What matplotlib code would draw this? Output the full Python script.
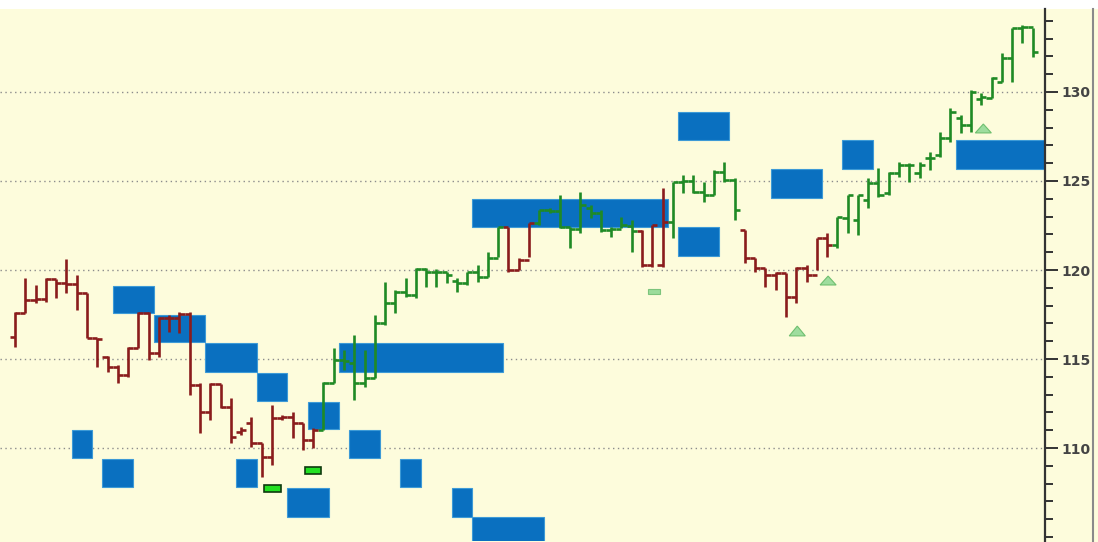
import matplotlib
matplotlib.use('Agg')
import matplotlib.pyplot as plt
from matplotlib.patches import Rectangle, Polygon
from matplotlib.lines import Line2D
import matplotlib.ticker as mticker

# OHLC price bars
opens = [116.24, 117.58, 118.31, 118.37, 119.49, 119.27, 119.21, 118.71, 116.18, 115.10,
         114.55, 114.10, 115.62, 117.58, 115.34, 117.30, 117.30, 117.53, 113.54, 112.02,
         113.60, 112.30, 110.90, 111.40, 110.28, 109.49, 111.70, 111.75, 111.40, 110.45,
         111.01, 113.65, 114.94, 114.80, 113.65, 113.93, 117.02, 118.15, 118.76, 118.60,
         120.06, 119.89, 119.89, 119.40, 119.27, 119.89, 119.60, 120.67, 122.42, 120.00,
         120.56, 122.64, 123.37, 123.30, 122.42, 122.30, 123.50, 123.20, 122.25, 122.30,
         122.50, 122.20, 120.28, 120.30, 122.70, 124.94, 125.00, 124.38, 124.21, 125.51,
         125.06, 122.25, 120.67, 120.11, 119.72, 119.83, 118.48, 120.11, 119.72, 121.80,
         121.40, 122.92, 122.80, 123.93, 124.89, 124.33, 125.45, 125.90, 125.45, 126.30,
         126.46, 127.42, 128.54, 128.15, 129.60, 129.66, 130.56, 131.91, 133.60, 133.65]
highs = [117.64, 119.55, 119.16, 119.55, 119.49, 120.62, 119.72, 118.71, 116.18, 115.17,
         114.66, 115.67, 117.64, 117.64, 117.36, 117.47, 117.64, 117.64, 113.65, 113.65,
         113.60, 112.81, 111.18, 111.74, 110.28, 112.42, 111.85, 112.02, 111.40, 111.10,
         113.71, 115.62, 115.50, 116.35, 115.50, 117.47, 119.33, 118.88, 119.55, 120.11,
         120.11, 120.06, 119.89, 119.55, 119.89, 120.28, 121.01, 122.42, 122.42, 120.67,
         122.64, 123.37, 123.48, 124.21, 122.42, 124.38, 123.65, 123.37, 122.42, 122.98,
         122.81, 122.25, 122.53, 124.61, 124.94, 125.34, 125.34, 124.94, 125.62, 126.07,
         125.17, 122.25, 120.67, 120.11, 119.89, 119.83, 120.17, 120.28, 121.80, 122.08,
         122.98, 124.21, 124.21, 125.17, 125.73, 125.51, 126.07, 126.01, 126.07, 126.63,
         127.75, 129.10, 128.71, 130.11, 129.94, 130.84, 132.19, 133.60, 133.76, 133.60]
lows = [115.67, 117.58, 118.15, 118.20, 118.43, 118.71, 117.75, 116.18, 114.55, 114.27,
        113.65, 113.99, 115.62, 114.94, 115.11, 116.52, 116.46, 112.98, 110.84, 111.57,
        112.25, 110.28, 110.73, 110.06, 108.37, 109.04, 111.55, 110.56, 109.89, 110.00,
        111.01, 113.65, 114.40, 112.70, 113.43, 113.93, 116.91, 117.58, 118.48, 118.43,
        119.04, 119.04, 119.27, 118.76, 119.16, 119.33, 119.61, 120.73, 119.89, 120.00,
        120.73, 122.53, 123.20, 122.36, 121.24, 122.08, 122.92, 122.13, 121.85, 122.36,
        121.00, 120.17, 120.17, 120.17, 121.80, 124.33, 124.33, 123.82, 124.21, 124.94,
        122.81, 120.39, 119.89, 119.04, 118.88, 117.36, 118.15, 119.33, 120.00, 120.73,
        121.24, 122.08, 121.97, 123.48, 124.10, 124.21, 125.22, 124.94, 125.17, 125.62,
        126.35, 127.19, 127.70, 127.75, 129.27, 129.66, 130.56, 130.56, 132.75, 131.97]
closes = [117.58, 118.31, 118.37, 119.49, 119.27, 119.21, 118.71, 116.18, 116.10, 114.55,
          114.10, 115.62, 117.58, 115.34, 117.30, 117.30, 117.53, 113.54, 112.02, 113.60,
          112.30, 110.62, 111.01, 110.28, 109.49, 111.69, 111.75, 111.40, 110.45, 111.01,
          113.65, 114.94, 114.90, 113.65, 113.93, 117.02, 118.15, 118.76, 118.60, 120.06,
          119.89, 119.89, 119.72, 119.27, 119.89, 119.60, 120.67, 122.42, 120.00, 120.56,
          122.64, 123.37, 123.30, 122.42, 122.30, 123.65, 123.20, 122.25, 122.30, 122.53,
          122.20, 120.28, 122.53, 122.70, 124.94, 125.00, 124.38, 124.21, 125.51, 125.06,
          123.37, 120.67, 120.11, 119.72, 119.83, 118.48, 120.11, 119.72, 121.80, 121.40,
          122.98, 124.21, 124.21, 124.89, 124.21, 125.45, 125.90, 125.90, 125.90, 126.30,
          127.42, 128.88, 128.15, 130.00, 129.72, 130.79, 131.91, 133.60, 133.65, 132.25]

# bar index ranges (inclusive) drawn in the down-trend colour
down_runs = [(0, 29), (48, 50), (61, 63), (71, 79)]

# supply / demand zones: first bar, last bar, low, high
zone_start = [10, 14, 19, 24, 29, 32, 33, 6, 9, 22, 27, 38, 43, 45, 45, 65, 65, 74, 81, 92]
zone_end = [13, 18, 23, 26, 31, 47, 35, 7, 11, 23, 30, 39, 44, 51, 63, 69, 68, 78, 83, 101]
zone_low = [117.60, 115.95, 114.30, 112.65, 111.05, 114.30, 109.45, 109.45, 107.80, 107.80,
            106.10, 107.80, 106.10, 104.50, 122.40, 127.30, 120.80, 124.05, 125.70, 125.70]
zone_high = [119.10, 117.50, 115.90, 114.20, 112.60, 115.90, 111.00, 111.00, 109.40, 109.40,
             107.75, 109.40, 107.75, 106.10, 124.00, 128.90, 122.40, 125.70, 127.30, 127.30]

# signal markers
flag_bar = [25.05, 29.0]
flag_low = [107.55, 108.55]
flag_high = [107.90, 108.95]
weak_flag_bar = [62.15]
weak_flag_low = [118.65]
weak_flag_high = [118.95]
tri_bar = [76.1, 79.1, 94.2]
tri_base = [116.30, 119.16, 127.70]
tri_top = [116.85, 119.66, 128.20]

y_ticks = [110, 115, 120, 125, 130]

BG = '#fdfcdc'
UP = '#1f8a25'
DOWN = '#8a1c1c'
ZONE = '#0a70c0'

W, H = 1098, 542
fig = plt.figure(figsize=(W / 100, H / 100), dpi=100)
fig.patch.set_facecolor(BG)
# white strip along the top edge, grey border at the right
fig.add_artist(Rectangle((0, 533 / H), 1, 1 - 533 / H, transform=fig.transFigure,
                         facecolor='white', edgecolor='none', zorder=0))
fig.add_artist(Line2D([1093 / W, 1093 / W], [0, 533 / H], color='#8a8a8a', lw=1.5, zorder=0))

ax = fig.add_axes([0, 1 / H, 1045 / W, 532 / H])
ax.set_zorder(2)
ax.set_facecolor(BG)

n = len(closes)
colors = [UP] * n
for a, b in down_runs:
    for i in range(a, b + 1):
        colors[i] = DOWN

xs = list(range(n))
ax.vlines(xs, lows, highs, colors=colors, lw=1.9, zorder=3)
ax.hlines(opens, [x - 0.5 for x in xs], xs, colors=colors, lw=1.9, zorder=3)
ax.hlines(closes, xs, [x + 0.5 for x in xs], colors=colors, lw=1.9, zorder=3)

for s, e, lo, hi in zip(zone_start, zone_end, zone_low, zone_high):
    ax.add_patch(Rectangle((s - 0.5, lo), e - s + 1, hi - lo, facecolor=ZONE,
                           edgecolor='#3d9ad6', lw=0.8, zorder=2))

for b, lo, hi in zip(flag_bar, flag_low, flag_high):
    ax.add_patch(Rectangle((b - 0.8, lo), 1.6, hi - lo, facecolor='#22e022',
                           edgecolor='#0e3a0e', lw=1.2, zorder=4))
for b, lo, hi in zip(weak_flag_bar, weak_flag_low, weak_flag_high):
    ax.add_patch(Rectangle((b - 0.55, lo), 1.1, hi - lo, facecolor='#9bdc9b',
                           edgecolor='#7cc47c', lw=0.8, zorder=4))
for b, lo, hi in zip(tri_bar, tri_base, tri_top):
    ax.add_patch(Polygon([(b - 0.78, lo), (b + 0.78, lo), (b, hi)], closed=True,
                         facecolor='#9edd9e', edgecolor='#6fbf6f', lw=0.8, zorder=4))

ax.set_xlim(-1.46, 100.2)
ax.set_ylim(104.78, 134.66)

ax.yaxis.tick_right()
ax.set_yticks(y_ticks)
ax.yaxis.set_minor_locator(mticker.MultipleLocator(1))
ax.tick_params(axis='y', which='major', length=9.5, width=1.4, color='#333333',
               labelsize=10, labelcolor='#444444', pad=2)
ax.tick_params(axis='y', which='minor', length=5.5, width=1.4, color='#333333')
for lab in ax.get_yticklabels():
    lab.set_fontweight('bold')
ax.set_xticks([])
ax.grid(True, axis='y', which='major', linestyle=(0, (1, 2.5)), color='#8c8c8c', lw=1)

for side in ['left', 'top', 'bottom']:
    ax.spines[side].set_visible(False)
ax.spines['right'].set_color('#333333')
ax.spines['right'].set_linewidth(1.6)

fig.savefig('out.png', dpi=100, facecolor=fig.get_facecolor())
